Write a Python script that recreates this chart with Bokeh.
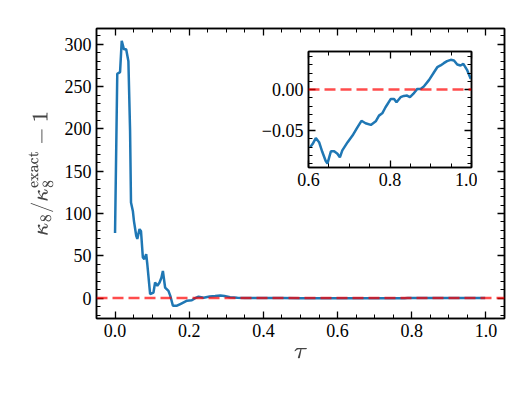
from bokeh.plotting import figure
from bokeh.models import Range1d, LinearAxis, FixedTicker, Span, PrintfTickFormatter
from bokeh.embed import file_html
from bokeh.resources import INLINE

# ---- data ----
tau_early = [0.000, 0.006, 0.0135, 0.018, 0.024, 0.030, 0.036, 0.0405, 0.043, 0.048,
             0.051, 0.057, 0.060, 0.066, 0.070, 0.075, 0.079, 0.084, 0.087, 0.0946,
             0.1036, 0.108, 0.114, 0.120, 0.125, 0.129, 0.135, 0.144, 0.149, 0.156,
             0.167, 0.176, 0.185, 0.194, 0.207, 0.216, 0.225, 0.239, 0.255, 0.270,
             0.284, 0.295, 0.310, 0.330, 0.350, 0.400, 0.450, 0.500, 0.550]
kappa_early = [77, 265, 267, 304, 294, 294, 280, 198, 113, 103,
               91, 74, 70, 81.5, 79, 48, 46, 52, 40, 4.7,
               6.6, 18.4, 14.5, 18.4, 24, 32, 12.5, 8.6, 2.7, -9,
               -9, -7, -5, -3, -2.5, 0, 1.6, 0.4, 2.0, 2.4,
               3.2, 2.5, 1.0, 0.4, 0.2, 0.1, 0.0, -0.05, -0.08]

tau_late = [0.604, 0.610, 0.618, 0.626, 0.634, 0.642, 0.6465, 0.655, 0.663, 0.671,
            0.677, 0.683, 0.696, 0.708, 0.720, 0.730, 0.740, 0.753, 0.765, 0.773,
            0.781, 0.789, 0.802, 0.810, 0.816, 0.826, 0.834, 0.842, 0.849, 0.857,
            0.867, 0.875, 0.883, 0.896, 0.908, 0.916, 0.924, 0.932, 0.940, 0.949,
            0.957, 0.965, 0.973, 0.980, 0.989, 0.998]
kappa_late = [-0.0703, -0.0663, -0.059, -0.064, -0.076, -0.0866, -0.090, -0.075, -0.075, -0.078,
              -0.0825, -0.074, -0.064, -0.056, -0.046, -0.038, -0.041, -0.043, -0.0386, -0.0317,
              -0.0289, -0.0215, -0.0114, -0.0114, -0.0154, -0.0093, -0.0077, -0.0073, -0.0093, -0.0053,
              0.0008, 0.0008, 0.0037, 0.0118, 0.0211, 0.0272, 0.0293, 0.0321, 0.0346, 0.0362,
              0.0354, 0.0305, 0.0293, 0.0313, 0.024, 0.013]

main_x_ticks = [0.0, 0.2, 0.4, 0.6, 0.8, 1.0]
main_x_minor = [round(-0.05 + 0.05 * i, 2) for i in range(23)]
main_y_ticks = [0, 50, 100, 150, 200, 250, 300]
main_y_minor = [-20 + 10 * i for i in range(34)]

inset_x_ticks = [0.6, 0.8, 1.0]
inset_x_minor = [0.6, 0.65, 0.7, 0.75, 0.8, 0.85, 0.9, 0.95, 1.0]
inset_y_ticks = [-0.05, 0.0]
inset_y_minor = [-0.09, -0.08, -0.07, -0.06, -0.05, -0.04, -0.03, -0.02, -0.01, 0.0, 0.01, 0.02, 0.03, 0.04]
inset_y_labels = {-0.05: "\u22120.05", 0.0: "0.00"}

BLUE = "#1f77b4"
FONT = "Liberation Serif"


def style_axis(ax, ticks, show_labels, size="18px"):
    ax.major_tick_in = 7
    ax.major_tick_out = 0
    ax.minor_tick_in = 4
    ax.minor_tick_out = 0
    ax.major_tick_line_width = 1.3
    ax.minor_tick_line_width = 1.0
    ax.major_tick_line_color = "black"
    ax.minor_tick_line_color = "black"
    ax.axis_line_width = 1.5
    ax.axis_line_color = "black"
    ax.major_label_text_font = FONT
    ax.major_label_text_color = "black"
    ax.major_label_text_font_size = size
    if not show_labels:
        ax.major_label_overrides = {t: "" for t in ticks}
        ax.major_label_standoff = 0


# ---- main figure ----
p = figure(frame_width=408, frame_height=290,
           x_range=Range1d(-0.05, 1.05), y_range=Range1d(-24.1, 318.6),
           output_backend="svg", toolbar_location=None,
           min_border_left=96, min_border_right=20, min_border_top=28, min_border_bottom=62)
p.xgrid.visible = False
p.ygrid.visible = False
p.outline_line_color = "black"
p.outline_line_width = 1.5
p.background_fill_color = "white"
p.border_fill_color = "white"

xt = FixedTicker(ticks=main_x_ticks, minor_ticks=main_x_minor)
yt = FixedTicker(ticks=main_y_ticks, minor_ticks=main_y_minor)
p.xaxis[0].ticker = xt
p.yaxis[0].ticker = yt
style_axis(p.xaxis[0], main_x_ticks, True)
style_axis(p.yaxis[0], main_y_ticks, True)
p.xaxis[0].formatter = PrintfTickFormatter(format="%.1f")
p.xaxis[0].axis_label = r"$$\tau$$"
p.yaxis[0].axis_label = r"$$\kappa_8/\kappa_8^{\mathrm{exact}} - 1$$"
p.xaxis[0].axis_label_text_font_size = "21px"
p.yaxis[0].axis_label_text_font_size = "18px"
p.xaxis[0].axis_label_standoff = 8
p.yaxis[0].axis_label_standoff = 8

top_ax = LinearAxis(ticker=xt)
style_axis(top_ax, main_x_ticks, False)
p.add_layout(top_ax, "above")
right_ax = LinearAxis(ticker=yt)
style_axis(right_ax, main_y_ticks, False)
p.add_layout(right_ax, "right")

p.line(tau_early + tau_late, kappa_early + kappa_late, line_color=BLUE, line_width=2.5)
p.add_layout(Span(location=0, dimension="width", line_color="red", line_alpha=0.7,
                  line_width=2.5, line_dash="11 5"))

# ---- inset figure ----
ins = figure(frame_width=163, frame_height=116,
             x_range=Range1d(0.6, 1.0), y_range=Range1d(-0.0948, 0.0463),
             output_backend="svg", toolbar_location=None,
             min_border_left=62, min_border_right=6, min_border_top=6, min_border_bottom=30)
ins.xgrid.visible = False
ins.ygrid.visible = False
ins.outline_line_color = "black"
ins.outline_line_width = 1.5
ins.background_fill_color = "white"
ins.border_fill_alpha = 0.0

ixt = FixedTicker(ticks=inset_x_ticks, minor_ticks=inset_x_minor)
iyt = FixedTicker(ticks=inset_y_ticks, minor_ticks=inset_y_minor)
ins.xaxis[0].ticker = ixt
ins.yaxis[0].ticker = iyt
style_axis(ins.xaxis[0], inset_x_ticks, True)
style_axis(ins.yaxis[0], inset_y_ticks, True)
ins.xaxis[0].formatter = PrintfTickFormatter(format="%.1f")
ins.yaxis[0].major_label_overrides = inset_y_labels
ins_top = LinearAxis(ticker=ixt)
style_axis(ins_top, inset_x_ticks, False)
ins.add_layout(ins_top, "above")
ins_right = LinearAxis(ticker=iyt)
style_axis(ins_right, inset_y_ticks, False)
ins.add_layout(ins_right, "right")

ins.line(tau_late, kappa_late, line_color=BLUE, line_width=2.5)
ins.add_layout(Span(location=0, dimension="width", line_color="red", line_alpha=0.7,
                    line_width=2.5, line_dash="11 5"))

ins.styles = {"position": "absolute", "left": "246px", "top": "45px"}

open("out.html", "w").write(file_html([p, ins], INLINE))
